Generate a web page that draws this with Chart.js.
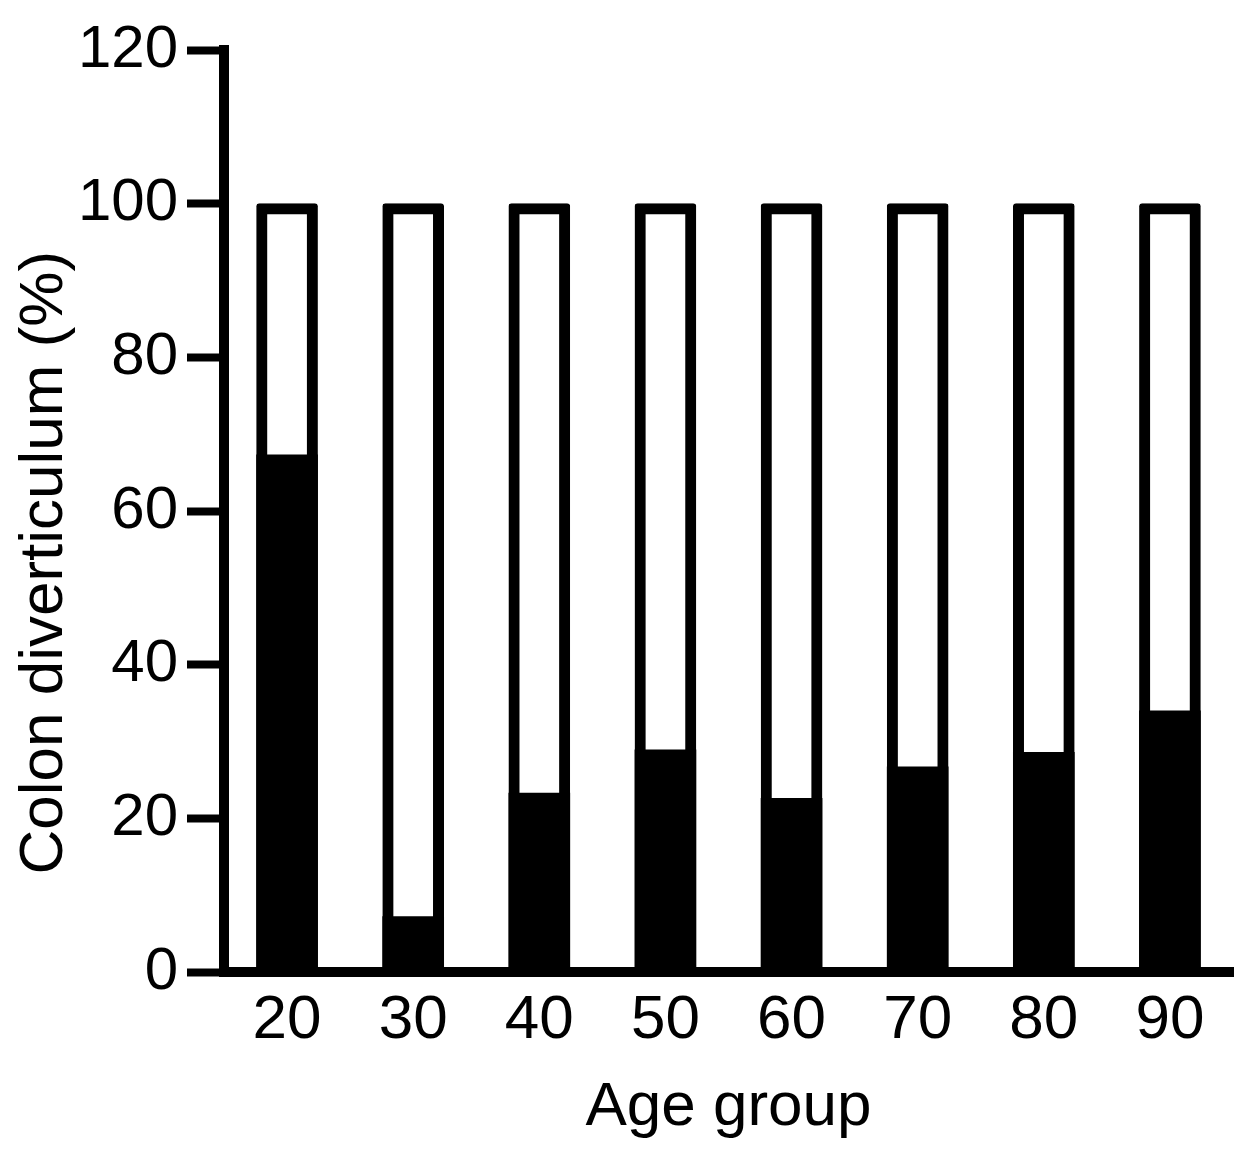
<!DOCTYPE html>
<html>
<head>
<meta charset="utf-8">
<script src="https://cdn.jsdelivr.net/npm/chart.js@4"></script>
<style>
  body { margin: 0; background: #fff; }
  #wrap { width: 1253px; height: 1165px; }
</style>
</head>
<body>
<div id="wrap"><canvas id="chart"></canvas></div>
<script>
// age groups and share with diverticulum (%), rest of bar = 100
const ageGroups = ["20", "30", "40", "50", "60", "70", "80", "90"];
const withDiverticulum = [67.3, 7.2, 23.3, 28.9, 22.6, 26.7, 28.6, 34.0];
const totals = [100, 100, 100, 100, 100, 100, 100, 100];
const yTicks = [0, 20, 40, 60, 80, 100, 120];

const font = "'Liberation Sans', Arial, Helvetica, sans-serif";

new Chart(document.getElementById("chart"), {
  type: "bar",
  data: {
    labels: ageGroups,
    datasets: [
      {
        label: "Diverticulum",
        data: withDiverticulum,
        backgroundColor: "#000",
        borderWidth: 0,
        barThickness: 61,
        grouped: false,
      },
      {
        label: "Total",
        data: totals,
        backgroundColor: "#fff",
        borderColor: "#000",
        borderWidth: 11,
        borderSkipped: false,
        borderRadius: 3,
        barThickness: 61,
        grouped: false,
      },
    ],
  },
  options: {
    responsive: true,
    maintainAspectRatio: false,
    animation: false,
    layout: { padding: { top: 50, right: 20, left: 0, bottom: 0 } },
    plugins: {
      legend: { display: false },
      tooltip: { enabled: false },
    },
    scales: {
      x: {
        grid: { display: true, drawOnChartArea: false, drawTicks: false },
        border: { display: true, color: "#000", width: 10 },
        ticks: {
          color: "#000",
          padding: 12,
          font: { family: font, size: 62 },
        },
        title: {
          display: true,
          text: "Age group",
          color: "#000",
          padding: { top: 4, bottom: 20 },
          font: { family: font, size: 62 },
        },
        afterFit: (s) => {
          s.height = 193;
        },
      },
      y: {
        min: 0,
        max: 120,
        afterBuildTicks: (s) => {
          s.ticks = yTicks.map((v) => ({ value: v }));
        },
        grid: {
          drawOnChartArea: false,
          drawTicks: true,
          tickLength: 37,
          tickWidth: 8,
          tickColor: "#000",
        },
        border: { display: true, color: "#000", width: 10 },
        ticks: {
          color: "#000",
          padding: 9,
          font: { family: font, size: 60 },
        },
        title: {
          display: true,
          // trailing spaces push the rotated title down to where it sits in the figure
          text: "Colon diverticulum (%)\u00a0\u00a0\u00a0\u00a0\u00a0\u00a0",
          color: "#000",
          padding: { top: 8, bottom: 0 },
          font: { family: font, size: 62 },
        },
        afterFit: (s) => {
          s.width = 224;
        },
      },
    },
  },
});
</script>
</body>
</html>
